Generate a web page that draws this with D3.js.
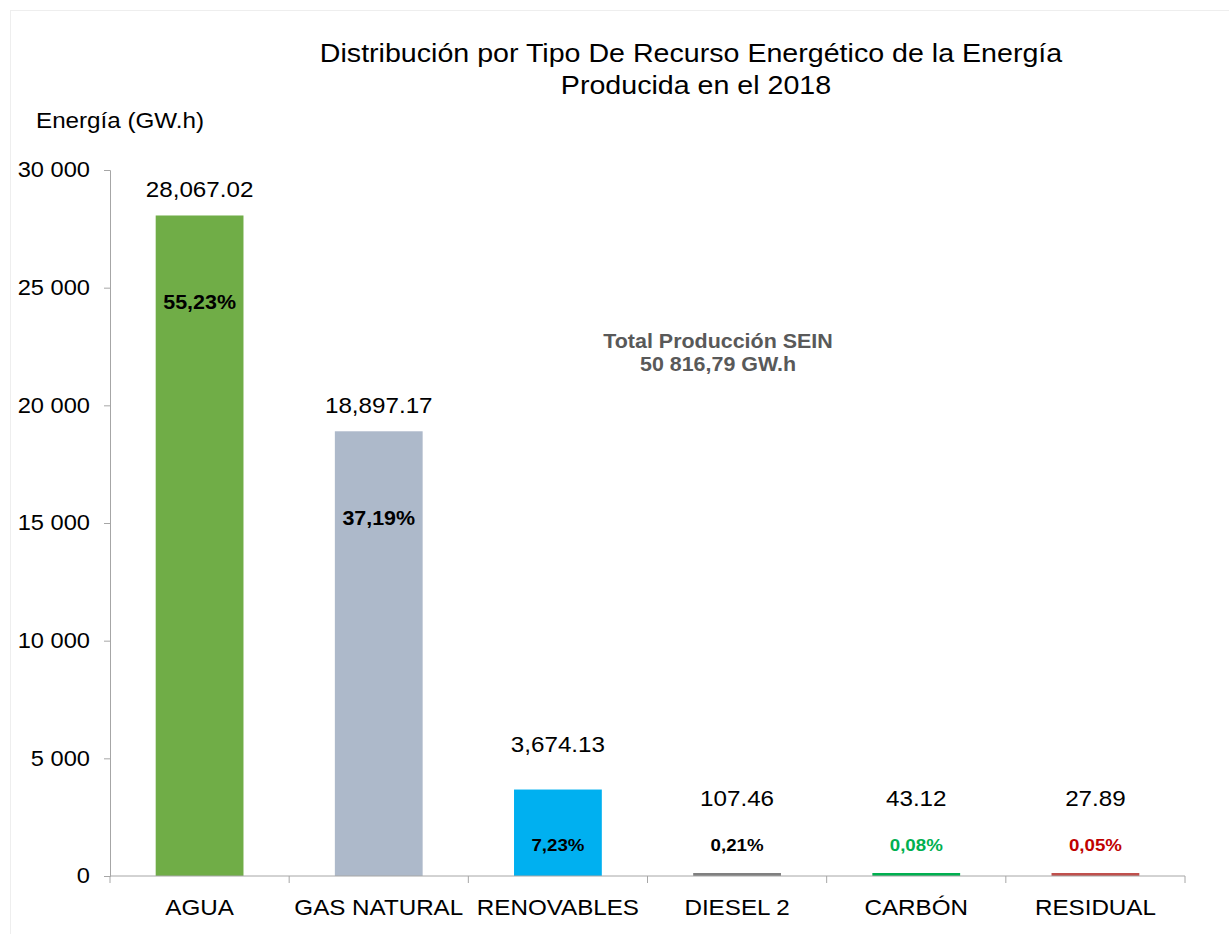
<!DOCTYPE html>
<html>
<head>
<meta charset="utf-8">
<script src="https://cdn.jsdelivr.net/npm/d3@7"></script>
<style>
  body { margin: 0; background: #fff; }
  svg { font-family: "Liberation Sans", Arial, sans-serif; }
</style>
</head>
<body>
<div id="chart"></div>
<script>
// data
var categories = ['AGUA', 'GAS NATURAL', 'RENOVABLES', 'DIESEL 2', 'CARBÓN', 'RESIDUAL'];
var energy     = [28067.02, 18897.17, 3674.13, 107.46, 43.12, 27.89];
var valueText  = ['28,067.02', '18,897.17', '3,674.13', '107.46', '43.12', '27.89'];
var pctText    = ['55,23%', '37,19%', '7,23%', '0,21%', '0,08%', '0,05%'];
var barColors  = ['#70AD47', '#ADB9CA', '#00B0F0', '#808080', '#00B050', '#C0504D'];
var pctColors  = ['#000', '#000', '#000', '#000', '#00B050', '#C00000'];
var yTicks     = [0, 5000, 10000, 15000, 20000, 25000, 30000];

var W = 1229, H = 934;
var margin = { top: 170, right: 44, bottom: 58, left: 110 };
var width  = W - margin.left - margin.right;
var height = H - margin.top - margin.bottom;
var sx = 1.1; // the original text is a bit wider than Arial

function place(x, y) {
	return 'translate(' + x + ',' + y + ') scale(' + sx + ',1)';
}

var svg = d3.select('#chart').append('svg')
	.attr('width', W)
	.attr('height', H);

// faint frame (only top/left edges show)
svg.append('rect')
	.attr('x', 10.5).attr('y', 10.5)
	.attr('width', W).attr('height', H)
	.attr('fill', 'none')
	.attr('stroke', '#eeeeee');

// title
svg.append('text')
	.attr('transform', place(691, 62))
	.attr('text-anchor', 'middle')
	.style('font-size', '26px')
	.text('Distribución por Tipo De Recurso Energético de la Energía');
svg.append('text')
	.attr('transform', place(696, 94))
	.attr('text-anchor', 'middle')
	.style('font-size', '26px')
	.text('Producida en el 2018');

svg.append('text')
	.attr('transform', place(36, 128))
	.style('font-size', '22px')
	.text('Energía (GW.h)');

var g = svg.append('g')
	.attr('transform', 'translate(' + margin.left + ',' + margin.top + ')');

var xScale = d3.scaleBand()
	.domain(categories)
	.range([0, width])
	.paddingInner(0.51)
	.paddingOuter(0.255);

var yScale = d3.scaleLinear()
	.domain([0, 30000])
	.range([height, 0]);

// y axis
var yAxis = d3.axisLeft(yScale)
	.tickValues(yTicks)
	.tickSize(6)
	.tickFormat(function(d) { return d3.format(',')(d).replace(',', ' '); });
var yG = g.append('g').call(yAxis);
yG.select('.domain').attr('stroke', '#a6a6a6');
yG.selectAll('.tick line').attr('stroke', '#a6a6a6');
yG.selectAll('.tick text')
	.attr('x', -20 / sx)
	.attr('transform', 'scale(' + sx + ',1)')
	.style('font-size', '21.5px')
	.attr('fill', '#000');

// bars
g.selectAll('rect.bar')
	.data(energy)
	.enter().append('rect')
	.attr('class', 'bar')
	.attr('x', function(d, i) { return xScale(categories[i]); })
	.attr('width', xScale.bandwidth())
	.attr('y', function(d) { return Math.min(yScale(d), height - 3); })
	.attr('height', function(d) { return Math.max(height - yScale(d), 3); })
	.attr('fill', function(d, i) { return barColors[i]; });

// x axis (ticks between categories)
var xLine = g.append('g').attr('transform', 'translate(0,' + height + ')');
xLine.append('line')
	.attr('x1', 0).attr('x2', width)
	.attr('stroke', '#a6a6a6');
xLine.selectAll('line.sep')
	.data(d3.range(categories.length + 1))
	.enter().append('line')
	.attr('class', 'sep')
	.attr('x1', function(d) { return d * width / categories.length; })
	.attr('x2', function(d) { return d * width / categories.length; })
	.attr('y1', 0).attr('y2', 7)
	.attr('stroke', '#a6a6a6');
xLine.selectAll('text')
	.data(categories)
	.enter().append('text')
	.attr('transform', function(d) { return place(xScale(d) + xScale.bandwidth() / 2, 39); })
	.attr('text-anchor', 'middle')
	.style('font-size', '22px')
	.text(function(d) { return d; });

function cx(i) { return xScale(categories[i]) + xScale.bandwidth() / 2; }

// value labels above bars
g.selectAll('text.val')
	.data(energy)
	.enter().append('text')
	.attr('class', 'val')
	.attr('transform', function(d, i) {
		var y = Math.min(yScale(d) - 18, height - 70);
		if (d < 5000 && d > 1000) y -= 20;
		return place(cx(i), y);
	})
	.attr('text-anchor', 'middle')
	.style('font-size', '22px')
	.text(function(d, i) { return valueText[i]; });

// percentage labels
g.selectAll('text.pct')
	.data(energy)
	.enter().append('text')
	.attr('class', 'pct')
	.attr('transform', function(d, i) { return place(cx(i), Math.min(yScale(d) + 94, height - 25)); })
	.attr('text-anchor', 'middle')
	.style('font-size', function(d) { return d > 10000 ? '19.5px' : '17px'; })
	.style('font-weight', 'bold')
	.attr('fill', function(d, i) { return pctColors[i]; })
	.text(function(d, i) { return pctText[i]; });

// total note
svg.append('text')
	.attr('transform', place(718, 348))
	.attr('text-anchor', 'middle')
	.style('font-size', '19.5px')
	.style('font-weight', 'bold')
	.attr('fill', '#595959')
	.text('Total Producción SEIN');
svg.append('text')
	.attr('transform', place(718, 371))
	.attr('text-anchor', 'middle')
	.style('font-size', '19.5px')
	.style('font-weight', 'bold')
	.attr('fill', '#595959')
	.text('50 816,79 GW.h');
</script>
</body>
</html>
